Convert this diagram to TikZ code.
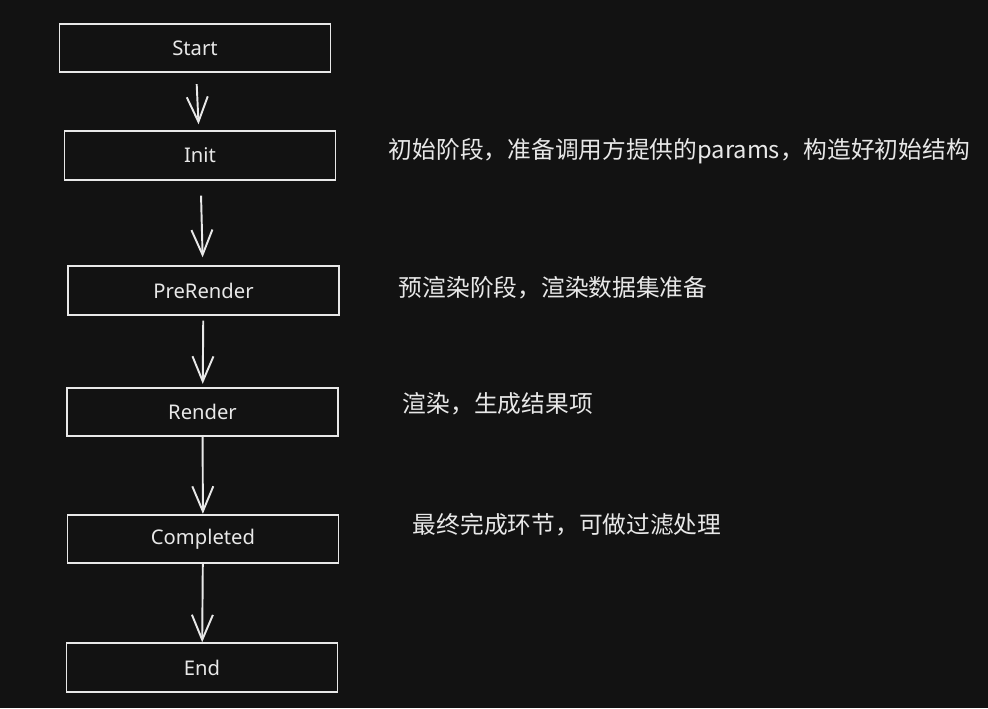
\documentclass[tikz,border=0pt]{standalone}
\usepackage{fontspec}
\setmainfont{Noto Sans}
\newfontfamily\cjk{Noto Sans CJK SC}
\usetikzlibrary{arrows.meta}
\definecolor{bgdark}{RGB}{18,18,18}
\definecolor{chalk}{RGB}{232,232,232}

\begin{document}
\begin{tikzpicture}[line width=1.1pt, color=chalk,
    stage/.style={draw=chalk, rectangle, minimum width=5.42cm, minimum height=0.97cm, font=\fontsize{11.5}{13}\selectfont, text=chalk},
    note/.style={anchor=west, inner sep=0pt, font=\cjk\fontsize{13.5}{16}\selectfont, text=chalk},
    flow/.style={-{Straight Barb[length=5mm, width=4.2mm]}, draw=chalk}]
    % Background
    \fill[bgdark] (0,0) rectangle (19.76,-14.16);
    \useasboundingbox (0,0) rectangle (19.76,-14.16);

    % Nodes
    \node[stage] (Start) at (3.90,-0.96) {Start};
    \node[stage] (Init) at (4.00,-3.11) {Init};
    \node[stage] (PreRender) at (4.07,-5.81) {PreRender};
    \node[stage] (Render) at (4.05,-8.24) {Render};
    \node[stage] (Completed) at (4.06,-10.78) {Completed};
    \node[stage] (End) at (4.04,-13.35) {End};

    % Edges
    \draw[flow, shorten <=0.22cm, shorten >=0.12cm] (Start) -- (Init);
    \draw[flow, shorten <=0.30cm, shorten >=0.16cm] (Init) -- (PreRender);
    \draw[flow, shorten <=0.10cm, shorten >=0.06cm] (PreRender) -- (Render);
    \draw[flow] (Render) -- (Completed);
    \draw[flow] (Completed) -- (End);

    % Notes
    \node[note] (initNote) at (7.76,-3.02) {初始阶段，准备调用方提供的params，构造好初始结构};
    \node[note] (preNote) at (7.96,-5.76) {预渲染阶段，渲染数据集准备};
    \node[note] (renderNote) at (8.04,-8.08) {渲染，生成结果项};
    \node[note] (doneNote) at (8.24,-10.50) {最终完成环节，可做过滤处理};
\end{tikzpicture}
\end{document}
